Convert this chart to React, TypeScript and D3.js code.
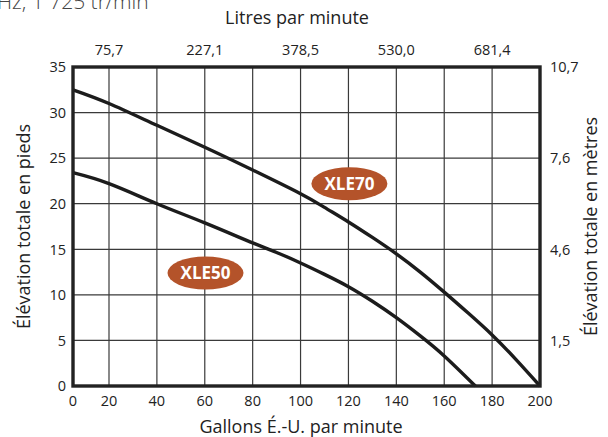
import React from 'react';
import * as d3 from 'd3';

// pump curves, gallons per minute vs total head in feet
const xle70Flow = [0, 20, 40, 60, 80, 100, 110, 120, 130, 140, 150, 160, 170, 180, 190, 200];
const xle70Head = [32.5, 31.0, 28.6, 26.2, 23.7, 21.1, 19.6, 18.0, 16.3, 14.5, 12.5, 10.3, 8.0, 5.6, 2.9, 0];
const xle50Flow = [0, 20, 40, 60, 80, 90, 100, 110, 120, 130, 140, 150, 160, 173];
const xle50Head = [23.4, 22.2, 20.0, 17.9, 15.7, 14.65, 13.5, 12.25, 10.9, 9.3, 7.5, 5.5, 3.3, 0];

const bottomTicks = [0, 20, 40, 60, 80, 100, 120, 140, 160, 180, 200];
const leftTicks = [0, 5, 10, 15, 20, 25, 30, 35];
const topTickFlows = [20, 60, 100, 140, 180];
const topTickLabels = ['75,7', '227,1', '378,5', '530,0', '681,4'];
const rightTickHeads = [35, 25, 15, 5];
const rightTickLabels = ['10,7', '7,6', '4,6', '1,5'];

const seriesNames = ['XLE70', 'XLE50'];
const badgeFlow = [120.4, 60.3];
const badgeHead = [22.2, 12.4];

const W = 608;
const H = 437;
const FONT = "'Open Sans', 'Noto Sans', sans-serif";

const App: React.FC = () => {
  // first column of the grid is narrower than the others in the original
  const x = d3.scaleLinear().domain([0, 20, 200]).range([73, 109, 540]);
  const y = d3.scaleLinear().domain([0, 35]).range([386, 67]);

  const line = d3.line<[number, number]>()
    .x(d => x(d[0]))
    .y(d => y(d[1]))
    .curve(d3.curveNatural);

  const curves = [
    xle70Flow.map((f, i) => [f, xle70Head[i]] as [number, number]),
    xle50Flow.map((f, i) => [f, xle50Head[i]] as [number, number]),
  ];

  const [x0, x1] = [x(0), x(200)];
  const [y0, y1] = [y(0), y(35)];
  const midY = (y0 + y1) / 2;

  return (
    <svg
      width={W}
      height={H}
      viewBox={`0 0 ${W} ${H}`}
      style={{ position: 'absolute', left: 0, top: 0, background: '#fff' }}
      fontFamily={FONT}
    >
      <text x={-3} y={9} fontSize={21} fill="#444" fontWeight={300}>Hz, 1 725 tr/min</text>

      {/* grid */}
      {bottomTicks.slice(1, -1).map(t => (
        <line key={'gx' + t} x1={x(t)} x2={x(t)} y1={y1} y2={y0} stroke="#3a3a3a" strokeWidth={1.2} />
      ))}
      {leftTicks.slice(1, -1).map(t => (
        <line key={'gy' + t} x1={x0} x2={x1} y1={y(t)} y2={y(t)} stroke="#3a3a3a" strokeWidth={1.2} />
      ))}

      {/* curves */}
      {curves.map((c, i) => (
        <path key={'c' + i} d={line(c) || ''} fill="none" stroke="#1c1c1c" strokeWidth={3.4} />
      ))}

      {/* frame */}
      <rect x={x0} y={y1} width={x1 - x0} height={y0 - y1} fill="none" stroke="#222" strokeWidth={3.4} />

      {/* series badges */}
      {seriesNames.map((n, i) => (
        <g key={n} transform={`translate(${x(badgeFlow[i])},${y(badgeHead[i])})`}>
          <ellipse rx={38} ry={16.5} fill="#b4532a" />
          <text textAnchor="middle" dy="0.36em" fontSize={17} fontWeight={700} fill="#fff">{n}</text>
        </g>
      ))}

      {/* bottom axis */}
      {bottomTicks.map(t => (
        <text key={'bx' + t} x={x(t)} y={406} textAnchor="middle" fontSize={14.5} fill="#222">{t}</text>
      ))}
      <text x={301} y={433} textAnchor="middle" fontSize={18} fill="#222">Gallons É.-U. par minute</text>

      {/* left axis */}
      {leftTicks.map(t => (
        <text key={'ly' + t} x={66} y={y(t)} dy="0.36em" textAnchor="end" fontSize={14.5} fill="#222">{t}</text>
      ))}
      <text transform={`translate(24,${midY}) rotate(-90)`} textAnchor="middle" dy="0.36em" fontSize={18} fill="#222">
        Élévation totale en pieds
      </text>

      {/* top axis */}
      {topTickFlows.map((f, i) => (
        <text key={'tx' + f} x={x(f)} y={50} dy="0.36em" textAnchor="middle" fontSize={14.5} fill="#222">{topTickLabels[i]}</text>
      ))}
      <text x={297} y={18} dy="0.36em" textAnchor="middle" fontSize={18} fill="#222">Litres par minute</text>

      {/* right axis */}
      {rightTickHeads.map((h, i) => (
        <text key={'ry' + h} x={550} y={y(h)} dy="0.36em" textAnchor="start" fontSize={14.5} fill="#222">{rightTickLabels[i]}</text>
      ))}
      <text transform={`translate(591,${midY}) rotate(-90)`} textAnchor="middle" dy="0.36em" fontSize={18} fill="#222">
        Élévation totale en mètres
      </text>
    </svg>
  );
};

export default App;
